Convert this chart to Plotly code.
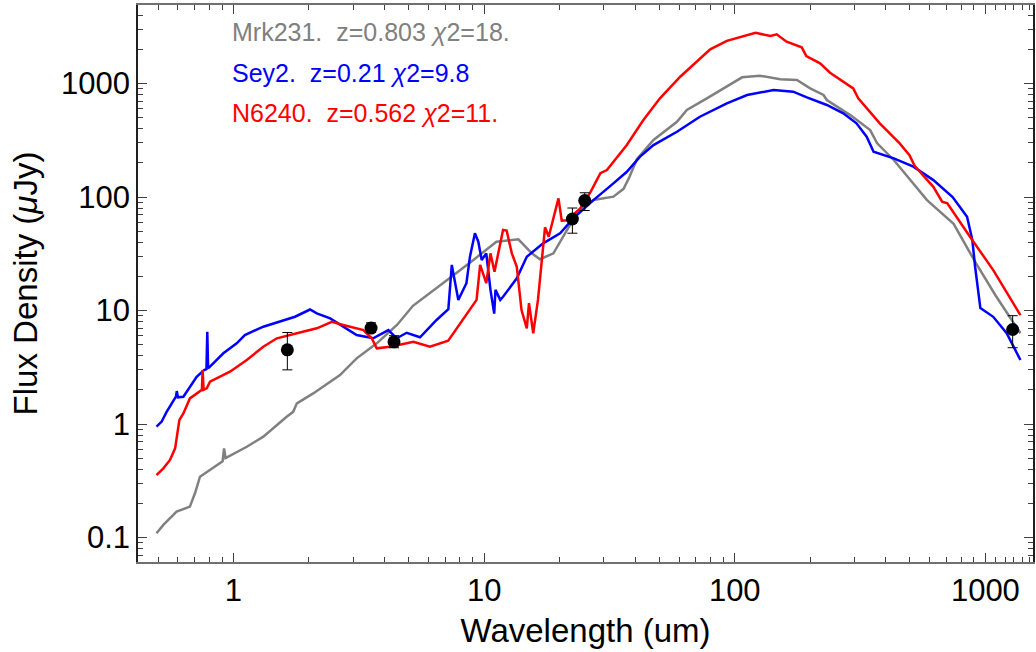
import plotly.graph_objects as go

# ---------------- data ----------------
mrk231_x = [0.493, 0.525, 0.593, 0.670, 0.702, 0.735, 0.805, 0.897, 0.905, 0.917, 0.93, 1.13, 1.315,
            1.63, 1.73, 1.79, 2.08, 2.66, 3.10, 3.73, 4.5, 5.2, 6.08, 7.43, 9.06, 11.2, 13.7, 15.5,
            16.7, 18.9, 21.4, 24.2, 27.3, 32.8, 36.0, 38.0, 40.7, 47.4, 58.8, 64.4, 77.4, 93.1, 107,
            126, 152, 177, 200, 226, 233, 289, 347, 370, 431, 585, 747, 918, 1100, 1380]
mrk231_y = [0.109, 0.129, 0.169, 0.187, 0.245, 0.343, 0.393, 0.466, 0.47, 0.61, 0.50, 0.63, 0.773,
            1.16, 1.28, 1.52, 1.86, 2.70, 3.79, 5.14, 7.5, 11.0, 14.2, 19.9, 27.9, 40.4, 42.4, 31.9,
            28.3, 31.9, 51.2, 79.4, 94.1, 100.7, 118, 150, 215, 318, 460, 584, 740, 937, 1134,
            1172, 1089, 1074, 907, 793, 716, 527, 389, 297, 212, 94, 58, 26, 13.5, 6.3]

sey2_x = [0.493, 0.517, 0.541, 0.590, 0.594, 0.600, 0.631, 0.713, 0.763, 0.780, 0.786, 0.792, 0.806,
          0.911, 1.03, 1.11, 1.315, 1.53, 1.76, 2.02, 2.15, 2.43, 2.74, 3.1, 3.61, 4.15, 4.48, 4.91,
          5.55, 6.46, 7.2, 7.43, 7.89, 8.5, 8.78, 9.19, 9.48, 9.78, 10.2, 10.6, 10.97, 11.1, 11.6,
          11.9, 13.5, 14.8, 17.2, 20.1, 22.7, 27.3, 32.8, 37.1, 41.8, 47.4, 58.8, 72.6, 93, 112,
          143, 171, 194, 233, 271, 306, 336, 358, 431, 516, 620, 740, 845, 887, 910, 935, 955,
          1075, 1216, 1380]
sey2_y = [0.947, 1.05, 1.28, 1.75, 1.95, 1.72, 1.74, 2.61, 2.99, 3.05, 6.5, 3.1, 3.2,
          4.2, 5.14, 6.08, 7.2, 7.96, 8.81, 10.2, 9.45, 8.53, 7.2, 6.08, 5.69, 6.73, 5.69, 6.37,
          5.81, 8.25, 10.3, 25.2, 12.4, 17.4, 29.8, 47.9, 40.4, 27.9, 31.9, 15.2, 9.4, 15.2, 12.4,
          13.2, 19.2, 29.8, 39.1, 47.9, 64.9, 94, 132, 167, 226, 287, 376, 510, 670, 793,
          877, 848, 755, 647, 546, 446, 340, 251, 219, 185, 141, 100, 67, 41.8, 24.3, 15.2, 10.5,
          8.8, 6.3, 3.66]

n6240_x = [0.493, 0.525, 0.558, 0.585, 0.608, 0.631, 0.67, 0.735, 0.748, 0.753, 0.76, 0.782, 0.806,
           0.968, 1.13, 1.315, 1.49, 1.79, 2.15, 2.47, 2.74, 3.3, 3.56, 3.73, 4.21, 4.91, 5.22, 6.08,
           7.19, 9.33, 9.64, 10.2, 10.6, 11.0, 11.9, 12.3, 12.9, 13.5, 14.1, 14.8, 15.1, 15.7, 16.4,
           17.5, 18.1, 19.8, 20.4, 21.4, 24.2, 26.6, 29.1, 30.9, 37.1, 43.2, 50.3, 60.6, 72.6, 79.8,
           93, 121, 139, 147, 161, 185, 193, 219, 240, 271, 297, 311, 379, 455, 498, 522, 620, 672,
           705, 868, 1075, 1380]
n6240_y = [0.355, 0.407, 0.482, 0.61, 1.08, 1.24, 1.68, 1.93, 2.0, 2.99, 2.0, 2.06, 2.36,
           2.89, 3.66, 4.8, 5.69, 6.3, 6.97, 7.96, 7.45, 6.73, 5.69, 4.64, 4.8, 5.14, 5.31, 4.8,
           5.42, 12.4, 25.2, 17.4, 31.9, 22, 51.2, 50.6, 31.9, 24.3, 10.1, 6.97, 11.6, 6.3, 12.4,
           54.1, 44.7, 97.4, 61.8, 62.5, 79.4, 111, 162, 173, 287, 477, 741, 1148, 1667, 2000,
           2380, 2803, 2620, 2713, 2334, 2084, 1747, 1506, 1245, 1037, 907, 741, 446, 297, 234, 188, 123, 91,
           88, 44.7, 22.7, 9.1]

obs_x = [1.64, 3.54, 4.37, 22.5, 25.2, 1285]
obs_y = [4.5, 7.0, 5.3, 64, 93, 6.8]
obs_err_plus = [1.9, 0.8, 0.7, 16, 16, 2.2]
obs_err_minus = [1.5, 0.6, 0.6, 16, 17, 2.1]

labels = ["Mrk231.  z=0.803 <i>χ</i>2=18.", "Sey2.  z=0.21 <i>χ</i>2=9.8", "N6240.  z=0.562 <i>χ</i>2=11."]
colors = ["#808080", "#0000FF", "#FF0000"]

x_major = [1, 10, 100, 1000]
x_minor = [0.5, 0.6, 0.7, 0.8, 0.9] + [m * 10 ** k for k in range(0, 3) for m in range(2, 10)] + [1100, 1200, 1300, 1400, 1500]
y_major = [0.1, 1, 10, 100, 1000]
y_minor = [0.07, 0.08, 0.09] + [m * 10 ** k for k in range(-1, 3) for m in range(2, 10)] + [2000, 3000, 4000]

FONT = "Liberation Sans, Arial, sans-serif"

fig = go.Figure()
for xs, ys, c in [(mrk231_x, mrk231_y, colors[0]), (sey2_x, sey2_y, colors[1]), (n6240_x, n6240_y, colors[2])]:
    fig.add_trace(go.Scatter(x=xs, y=ys, mode="lines", line=dict(color=c, width=2.5), showlegend=False))

fig.add_trace(go.Scatter(
    x=obs_x, y=obs_y, mode="markers",
    marker=dict(color="black", size=13),
    error_y=dict(type="data", array=obs_err_plus, arrayminus=obs_err_minus, color="black", thickness=1, width=5),
    showlegend=False))

for i, (lab, c) in enumerate(zip(labels, colors)):
    fig.add_annotation(xref="paper", yref="paper", x=0.1028, y=[0.9515, 0.878, 0.806][i],
                       xanchor="left", yanchor="middle", text=lab, showarrow=False,
                       font=dict(family=FONT, size=25, color=c))

axis_common = dict(
    type="log", showgrid=False, zeroline=False, showline=True, mirror="ticks",
    ticks="inside", ticklen=9, tickwidth=1,
    tickfont=dict(family=FONT, size=31, color="black"),
)

fig.update_xaxes(**axis_common, range=[-0.381, 3.19], tickvals=x_major, ticktext=[str(v) for v in x_major],
                 linecolor="#707070", tickcolor="#404040", linewidth=1.5,
                 minor=dict(tickvals=x_minor, ticks="inside", ticklen=5, tickcolor="#404040", tickwidth=1),
                 title=dict(text="Wavelength (um)", font=dict(family=FONT, size=33, color="black"), standoff=12))
fig.update_yaxes(**axis_common, range=[-1.216, 3.692], tickvals=y_major, ticktext=["0.1", "1", "10", "100", "1000"],
                 linecolor="#202020", tickcolor="#404040", linewidth=1.5,
                 minor=dict(tickvals=y_minor, ticks="inside", ticklen=5, tickcolor="#404040", tickwidth=1),
                 title=dict(text="Flux Density (<i>μ</i>Jy)", font=dict(family=FONT, size=33, color="black"), standoff=14))

fig.update_layout(
    width=1036, height=652,
    margin=dict(l=138, r=3, t=5, b=90, autoexpand=False),
    paper_bgcolor="white", plot_bgcolor="white",
    font=dict(family=FONT),
)

fig.write_html("out.html", config={"displayModeBar": False},
               post_script="document.body.style.margin='0';document.body.style.padding='0';document.documentElement.style.overflow='hidden';")
